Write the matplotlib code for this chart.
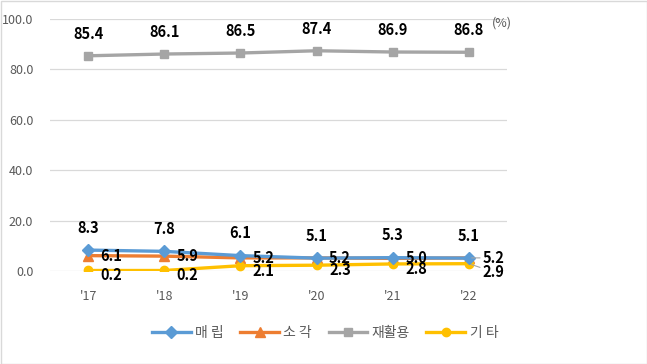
import matplotlib.pyplot as plt
from matplotlib.patches import Rectangle

plt.rcParams['font.family'] = ['Noto Sans CJK KR', 'DejaVu Sans']

years = ["'17", "'18", "'19", "'20", "'21", "'22"]
landfill = [8.3, 7.8, 6.1, 5.1, 5.3, 5.1]
incinerate = [6.1, 5.9, 5.2, 5.2, 5.0, 5.2]
recycle = [85.4, 86.1, 86.5, 87.4, 86.9, 86.8]
other = [0.2, 0.2, 2.1, 2.3, 2.8, 2.9]
yticks = [0, 20, 40, 60, 80, 100]

fig = plt.figure(figsize=(6.47, 3.64), dpi=100)
ax = fig.add_axes([50/647, 1 - 271/364, 457/647, 252/364])
x = list(range(len(years)))

ax.plot(x, landfill, color="#5B9BD5", lw=2.4, marker="D", ms=6, label="매 립", zorder=4)
ax.plot(x, incinerate, color="#ED7D31", lw=2.4, marker="^", ms=7, label="소 각", zorder=3)
ax.plot(x, recycle, color="#A5A5A5", lw=2.4, marker="s", ms=6, label="재활용", zorder=3)
ax.plot(x, other, color="#FFC000", lw=2.4, marker="o", ms=6, label="기 타", zorder=3)

lab = dict(fontsize=10.5, fontweight="bold", color="black", zorder=6)
lead = dict(arrowstyle="-", color="#A5A5A5", lw=0.8, shrinkA=0, shrinkB=2)
last = len(years) - 1
for i in x:
    ax.annotate(f"{recycle[i]:.1f}", (i, recycle[i]), xytext=(0, 16), textcoords="offset points",
                ha="center", va="center", **lab)
    ax.annotate(f"{landfill[i]:.1f}", (i, landfill[i]), xytext=(0, 16), textcoords="offset points",
                ha="center", va="center", **lab)
    if i == last:
        ax.annotate(f"{incinerate[i]:.1f}", (i, incinerate[i]), xytext=(10, 0), textcoords="offset points",
                    ha="left", va="center", arrowprops=lead, **lab)
        ax.annotate(f"{other[i]:.1f}", (i, other[i]), xytext=(10, -6), textcoords="offset points",
                    ha="left", va="center", arrowprops=lead, **lab)
    else:
        ax.annotate(f"{incinerate[i]:.1f}", (i, incinerate[i]), xytext=(9, 0), textcoords="offset points",
                    ha="left", va="center", **lab)
        ax.annotate(f"{other[i]:.1f}", (i, other[i]), xytext=(9, -3.5), textcoords="offset points",
                    ha="left", va="center", **lab)

ax.set_xlim(-0.5, len(years) - 0.5)
ax.set_ylim(0, 100)
ax.set_yticks(yticks)
ax.set_yticklabels([f"{v:.1f}" for v in yticks])
ax.set_xticks(x)
ax.set_xticklabels(years)
ax.tick_params(axis="both", length=0, labelsize=9, colors="#595959")
ax.tick_params(axis="x", pad=14)
ax.tick_params(axis="y", pad=12)
ax.grid(axis="y", color="#D9D9D9", lw=0.9)
ax.set_axisbelow(True)
for s in ax.spines.values():
    s.set_visible(False)

fig.text(502/647, 1 - 23/364, "(%)", fontsize=9, color="#595959", ha="center", va="center")

fig.legend(loc="center", bbox_to_anchor=(325/647, 1 - 333/364), ncol=4, frameon=False,
           fontsize=10, labelcolor="#595959", handlelength=2.8, columnspacing=1.2, handletextpad=0.3)

fig.patches.append(Rectangle((0.5/647, 0.5/364), 1 - 1/647, 1 - 1/364, transform=fig.transFigure,
                             fill=False, edgecolor="#D9D9D9", lw=1))

fig.savefig("out.png", dpi=100)
